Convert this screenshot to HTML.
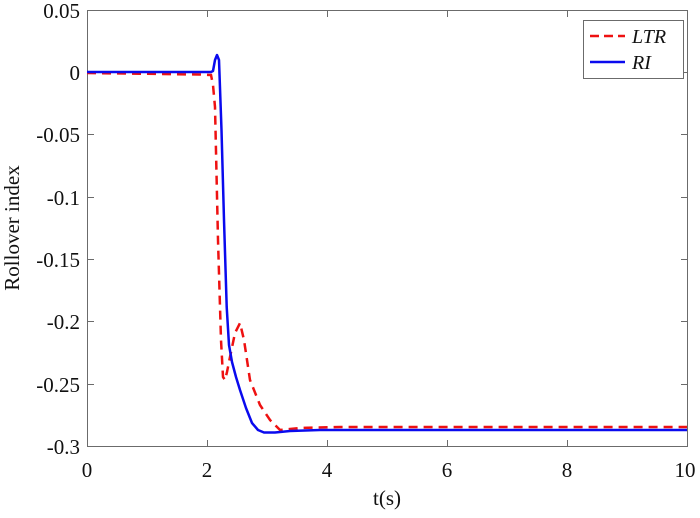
<!DOCTYPE html>
<html><head><style>body{margin:0;background:#fff}</style></head><body>
<svg width="700" height="513" xmlns="http://www.w3.org/2000/svg" font-family="Liberation Serif, serif">
<rect x="0" y="0" width="700" height="513" fill="#fff"/>
<g stroke="#6b6b6b" stroke-width="1" fill="none">
<rect x="87.5" y="10.5" width="600" height="436"/>
<path d="M207.5 446v-6M327.5 446v-6M447.5 446v-6M567.5 446v-6M207.5 11v6M327.5 11v6M447.5 11v6M567.5 11v6M88 72.5h6M88 134.5h6M88 197.5h6M88 259.5h6M88 321.5h6M88 384.5h6M687 72.5h-6M687 134.5h-6M687 197.5h-6M687 259.5h-6M687 321.5h-6M687 384.5h-6"/>
</g>
<g font-size="21" fill="#111" text-anchor="end">
<text x="80" y="18">0.05</text><text x="80" y="80">0</text><text x="80" y="142">-0.05</text>
<text x="80" y="205">-0.1</text><text x="80" y="267">-0.15</text><text x="80" y="329">-0.2</text>
<text x="80" y="392">-0.25</text><text x="80" y="454">-0.3</text>
</g>
<g font-size="21" fill="#111" text-anchor="middle">
<text x="87" y="477">0</text><text x="207" y="477">2</text><text x="327" y="477">4</text>
<text x="447" y="477">6</text><text x="567" y="477">8</text><text x="685" y="477">10</text>
<text x="387" y="505">t(s)</text>
<text transform="translate(19,228) rotate(-90)">Rollover index</text>
</g>
<path d="M87 73 L200 74.5 L211 75 L213 85 L215 107 L218 240 L221 340 L223 377 L225 380 L227 372 L230 357 L235 333 L240 323 L244 340 L250 380 L260 405 L270 420 L280 430 L300 428 L340 427 L687 427" fill="none" stroke="#ee1111" stroke-width="2.5" stroke-dasharray="9,6"/>
<path d="M87 72 L211 72 L213 71 L215 60 L217 55 L219 60 L221.5 130 L224 220 L226.7 307 L229 345 L232 362 L236 377 L240 390 L246 408 L252 423 L258 430 L264 432.5 L275 432.5 L290 431 L320 430 L687 430" fill="none" stroke="#0a0aee" stroke-width="2.5" stroke-linejoin="round"/>
<rect x="583.5" y="20.5" width="100" height="58" fill="#fff" stroke="#6b6b6b"/>
<line x1="590" y1="36" x2="625" y2="36" stroke="#ee1111" stroke-width="2.5" stroke-dasharray="9,5"/>
<line x1="590" y1="62" x2="625" y2="62" stroke="#0a0aee" stroke-width="2.5"/>
<g font-size="20" font-style="italic" fill="#111"><text x="632" y="43">LTR</text><text x="632" y="69">RI</text></g>
</svg>
</body></html>
